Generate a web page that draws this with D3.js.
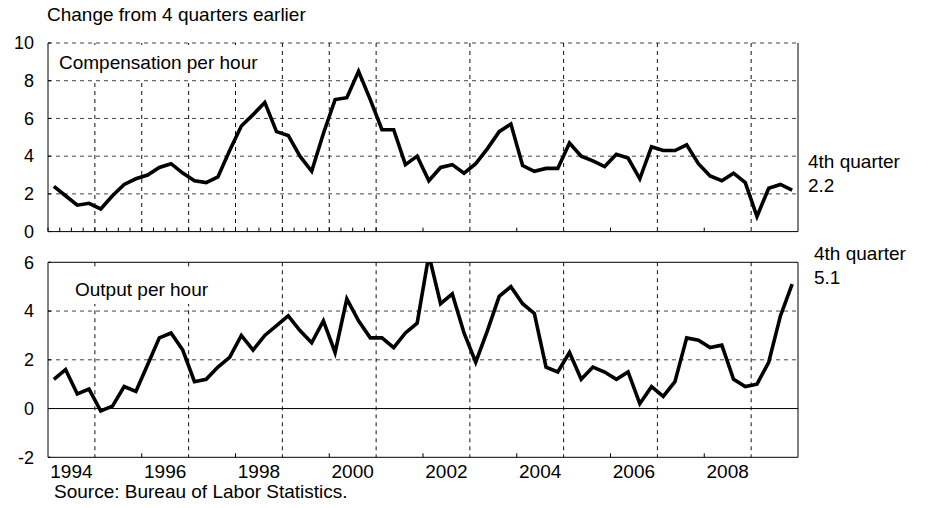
<!DOCTYPE html>
<html>
<head>
<meta charset="utf-8">
<script src="https://cdn.jsdelivr.net/npm/d3@7"></script>
<style>
  body { margin: 0; background: #fff; }
  text { font-family: "Liberation Sans", Arial, sans-serif; fill: #000; }
</style>
</head>
<body>
<div id="chart"></div>
<script>
// quarterly data, 1994Q1 .. 2009Q4 (percent change from 4 quarters earlier)
const startYear = 1994;
const compensation = [
  2.4, 1.9, 1.4, 1.5, 1.2, 1.9, 2.5, 2.8, 3.0, 3.4, 3.6, 3.1, 2.7, 2.6, 2.9, 4.3,
  5.6, 6.2, 6.85, 5.3, 5.1, 4.0, 3.2, 5.2, 7.0, 7.1, 8.5, 7.0, 5.4, 5.4, 3.55, 4.0,
  2.7, 3.4, 3.55, 3.1, 3.6, 4.4, 5.3, 5.7, 3.5, 3.2, 3.35, 3.35, 4.7, 4.0, 3.75, 3.45,
  4.1, 3.9, 2.8, 4.5, 4.3, 4.3, 4.6, 3.6, 2.95, 2.7, 3.1, 2.6, 0.8, 2.3, 2.5, 2.2
];
const output = [
  1.2, 1.6, 0.6, 0.8, -0.1, 0.1, 0.9, 0.7, 1.8, 2.9, 3.1, 2.4, 1.1, 1.2, 1.7, 2.1,
  3.0, 2.4, 3.0, 3.4, 3.8, 3.2, 2.7, 3.6, 2.3, 4.5, 3.6, 2.9, 2.9, 2.5, 3.1, 3.5,
  6.3, 4.3, 4.7, 3.1, 1.9, 3.2, 4.6, 5.0, 4.3, 3.9, 1.7, 1.5, 2.3, 1.2, 1.7, 1.5,
  1.2, 1.5, 0.2, 0.9, 0.5, 1.1, 2.9, 2.8, 2.5, 2.6, 1.2, 0.9, 1.0, 1.9, 3.8, 5.1
];
const topTicks = [0, 2, 4, 6, 8, 10];
const bottomTicks = [-2, 0, 2, 4, 6];
const yearLabels = [1994, 1996, 1998, 2000, 2002, 2004, 2006, 2008];
const topGridYears = [1995, 1996, 1997, 1998, 1999, 2000, 2001, 2003, 2005, 2007, 2009];
const bottomGridYears = [1995, 1997, 1999, 2001, 2003, 2005, 2007, 2009];
const topTickYears = d3.range(1994, 2001.01, 0.25).concat([2002, 2004, 2006, 2008]);
const bottomTickYears = [1996, 1998, 2000, 2002, 2004, 2006, 2008];

const width = 928, height = 508;
const left = 48, right = 798;

const svg = d3.select("#chart").append("svg")
    .attr("width", width)
    .attr("height", height);

const x = d3.scaleLinear().domain([1994, 2010]).range([left, right]);
const yTop = d3.scaleLinear().domain([0, 10]).range([231.6, 43]);
const yBot = d3.scaleLinear().domain([-2, 6]).range([457.3, 262.3]);

const qTime = i => startYear + (i + 0.5) / 4;

function drawPanel(y, values, opts) {
    const g = svg.append("g");
    const [y0, y1] = y.range();

    const clipId = "clip" + opts.id;
    svg.append("clipPath").attr("id", clipId)
        .append("rect")
        .attr("x", left).attr("y", y1)
        .attr("width", right - left).attr("height", y0 - y1);

    // horizontal gridlines
    g.selectAll(".hgrid")
        .data(opts.hgrid)
        .enter().append("line")
        .attr("x1", left).attr("x2", right)
        .attr("y1", d => y(d)).attr("y2", d => y(d))
        .attr("stroke", "#444")
        .attr("stroke-width", 1)
        .attr("stroke-dasharray", "4,4");

    // vertical gridlines
    g.selectAll(".vgrid")
        .data(opts.vgrid)
        .enter().append("line")
        .attr("x1", d => x(d)).attr("x2", d => x(d))
        .attr("y1", y1).attr("y2", y0)
        .attr("stroke", "#111")
        .attr("stroke-width", 1)
        .attr("stroke-dasharray", "4,4");

    // zero line
    if (opts.zero) {
        g.append("line")
            .attr("x1", left).attr("x2", right)
            .attr("y1", y(0)).attr("y2", y(0))
            .attr("stroke", "#000");
    }

    // label box
    g.append("rect")
        .attr("x", opts.box[0]).attr("y", opts.box[1])
        .attr("width", opts.box[2]).attr("height", opts.box[3])
        .attr("fill", "#fff");
    g.append("text")
        .attr("x", opts.labelPos[0]).attr("y", opts.labelPos[1])
        .style("font-size", "19px")
        .text(opts.label);

    // frame
    g.append("path")
        .attr("d", `M${left},${y1}V${y0}H${right}V${y1}`)
        .attr("fill", "none")
        .attr("stroke", "#000");
    if (opts.solidTop) {
        g.append("line")
            .attr("x1", left).attr("x2", right)
            .attr("y1", y1).attr("y2", y1)
            .attr("stroke", "#000");
    }

    // ticks on bottom edge
    g.selectAll(".xtick")
        .data(opts.xticks)
        .enter().append("line")
        .attr("x1", d => x(d)).attr("x2", d => x(d))
        .attr("y1", y0).attr("y2", y0 - 4)
        .attr("stroke", "#000");

    // small ticks on left edge
    g.selectAll(".ytick")
        .data(opts.yticks)
        .enter().append("line")
        .attr("x1", left).attr("x2", left + 3)
        .attr("y1", d => y(d)).attr("y2", d => y(d))
        .attr("stroke", "#000");

    // y axis labels (plain hyphen for negatives, as in the original)
    const ax = svg.append("g")
        .attr("transform", `translate(${left},0)`)
        .call(d3.axisLeft(y).tickValues(opts.yticks).tickSize(0).tickPadding(14).tickFormat(d => String(d)));
    ax.select(".domain").remove();
    ax.selectAll("text")
        .style("font-size", "18px")
        .attr("font-family", null);

    // series line
    const line = d3.line()
        .x((d, i) => x(qTime(i)))
        .y(d => y(d));
    svg.append("path")
        .datum(values)
        .attr("clip-path", `url(#${clipId})`)
        .attr("d", line)
        .attr("fill", "none")
        .attr("stroke", "#000")
        .attr("stroke-width", 3.6)
        .attr("stroke-linejoin", "miter");
}

drawPanel(yTop, compensation, {
    id: "top",
    hgrid: [2, 4, 6, 8, 10],
    vgrid: topGridYears,
    zero: false,
    solidTop: false,
    box: [47, 45, 230, 35],
    labelPos: [59, 68.5],
    label: "Compensation per hour",
    xticks: topTickYears,
    yticks: topTicks
});

drawPanel(yBot, output, {
    id: "bot",
    hgrid: [2, 4],
    vgrid: bottomGridYears,
    zero: true,
    solidTop: true,
    box: [66, 270, 150, 34],
    labelPos: [75, 296],
    label: "Output per hour",
    xticks: bottomTickYears,
    yticks: bottomTicks
});

// year labels centred on the middle of each year
svg.append("g").selectAll("text")
    .data(yearLabels)
    .enter().append("text")
    .attr("x", d => x(d + 0.5))
    .attr("y", 477.5)
    .attr("text-anchor", "middle")
    .style("font-size", "19px")
    .text(d => d);

// titles and notes
svg.append("text")
    .attr("x", 47).attr("y", 21)
    .style("font-size", "19px")
    .text("Change from 4 quarters earlier");

svg.append("text")
    .attr("x", 54).attr("y", 498)
    .style("font-size", "19px")
    .text("Source: Bureau of Labor Statistics.");

const notes = [
    { x: 808, y: 168, text: "4th quarter" },
    { x: 808, y: 191.5, text: "2.2" },
    { x: 814, y: 260, text: "4th quarter" },
    { x: 814, y: 284, text: "5.1" }
];
svg.append("g").selectAll("text")
    .data(notes)
    .enter().append("text")
    .attr("x", d => d.x).attr("y", d => d.y)
    .style("font-size", "19px")
    .text(d => d.text);
</script>
</body>
</html>
